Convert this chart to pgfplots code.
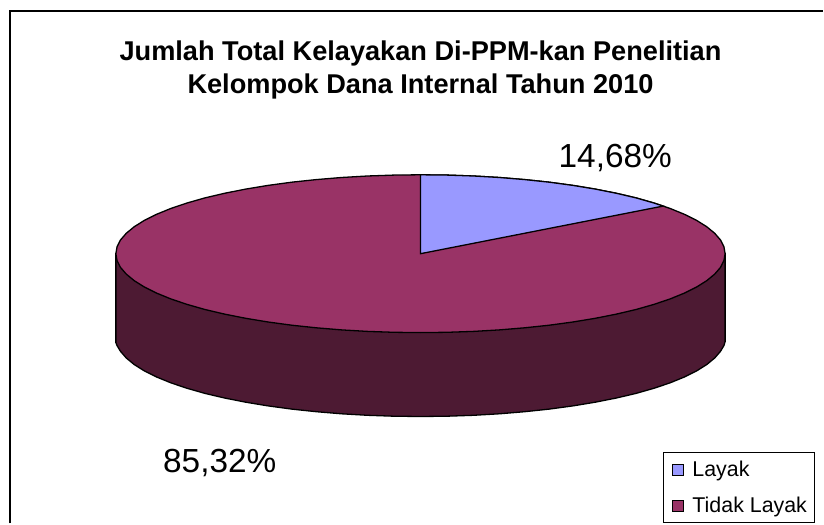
\documentclass[border=0pt]{standalone}
\usepackage{pgfplots}
\pgfplotsset{compat=1.18}
\usepackage{fontspec}
\setmainfont{Liberation Sans}
\definecolor{layak}{HTML}{9999FF}
\definecolor{tidak}{HTML}{993366}
\definecolor{wall}{HTML}{4D1A33}
\pgfplotsset{swatch/.style={legend image code/.code={\path (0pt,0pt); \draw[##1] (2.5pt,-5.5pt) rectangle (14pt,5.5pt); \path (20pt,0pt);}}}
\begin{document}
\begin{tikzpicture}
\begin{axis}[
  scale only axis, width=824pt, height=524pt,
  xmin=0, xmax=824, ymin=0, ymax=524, y dir=reverse,
  axis lines=none, clip=false,
  legend cell align=left,
  legend style={at={(axis cs:816,524)}, anchor=south east, draw=black, line width=1.2pt, fill=white,
    font=\fontsize{21.4}{25}\selectfont, row sep=15pt, inner xsep=5.5pt, inner ysep=6.5pt},
]
% page extent
\addplot[forget plot, draw=none] coordinates {(0,0) (824,524)};
% chart frame (open on the right and at the bottom)
\addplot[forget plot, black, line width=2pt] coordinates {(10,524) (10,11) (824,11)};
% side wall
\addplot[forget plot, fill=wall, draw=black, line width=1.3pt] coordinates {
(116,254) (116,343) (117.2,346) (120.6,351.7) (126.4,358.4) (134.4,365.0) (144.6,371.4) (156.9,377.5) (171.1,383.3) (187.4,388.8) (205.3,393.9) (224.9,398.5) (246.1,402.7) (268.5,406.4) (292.1,409.6) (316.7,412.2) (342.1,414.3) (368.0,415.8) (394.4,416.7) (421,417)
(447.6,416.7) (474.0,415.8) (499.9,414.3) (525.3,412.2) (549.9,409.6) (573.5,406.4) (595.9,402.7) (617.1,398.5) (636.7,393.9) (654.6,388.8) (670.9,383.3) (685.1,377.5) (697.4,371.4) (707.6,365.0) (715.6,358.4) (721.4,351.7) (724.8,346) (726,342) (726,254)
} --cycle;
% top face: Tidak Layak
\addplot[forget plot, fill=tidak, draw=black, line width=1.3pt] coordinates {
(726.0,254.0) (724.8,247.1) (721.4,240.3) (715.6,233.6) (707.6,227.0) (697.4,220.6) (685.1,214.5) (670.9,208.7) (654.6,203.2) (636.7,198.1) (617.1,193.5) (595.9,189.3) (573.5,185.6) (549.9,182.4) (525.3,179.8) (499.9,177.7) (474.0,176.2) (447.6,175.3) (421,175)
(394.4,175.3) (368.0,176.2) (342.1,177.7) (316.7,179.8) (292.1,182.4) (268.5,185.6) (246.1,189.3) (224.9,193.5) (205.3,198.1) (187.4,203.2) (171.1,208.7) (156.9,214.5) (144.6,220.6) (134.4,227.0) (126.4,233.6) (120.6,240.3) (117.2,247.1) (116,254)
(117.2,260.9) (120.6,267.7) (126.4,274.4) (134.4,281.0) (144.6,287.4) (156.9,293.5) (171.1,299.3) (187.4,304.8) (205.3,309.9) (224.9,314.5) (246.1,318.7) (268.5,322.4) (292.1,325.6) (316.7,328.2) (342.1,330.3) (368.0,331.8) (394.4,332.7) (421,333)
(447.6,332.7) (474.0,331.8) (499.9,330.3) (525.3,328.2) (549.9,325.6) (573.5,322.4) (595.9,318.7) (617.1,314.5) (636.7,309.9) (654.6,304.8) (670.9,299.3) (685.1,293.5) (697.4,287.4) (707.6,281.0) (715.6,274.4) (721.4,267.7) (724.8,260.9)
} --cycle;
% top face: Layak
\addplot[forget plot, fill=layak, draw=black, line width=1.3pt] coordinates {
(421,254) (421,175) (447.6,175.3) (474.0,176.2) (499.9,177.7) (525.3,179.8) (549.9,182.4) (573.5,185.6) (595.9,189.3) (617.1,193.5) (636.7,198.1) (654.6,203.2) (664.1,206.3)
} --cycle;
\addlegendimage{swatch, fill=layak, draw=black, line width=1.5pt}
\addlegendentry{Layak}
\addlegendimage{swatch, fill=tidak, draw=black, line width=1.5pt}
\addlegendentry{Tidak Layak}
\node[align=center, font=\fontsize{27.2}{33}\selectfont\bfseries] at (axis cs:421,70) {Jumlah Total Kelayakan Di-PPM-kan Penelitian\\Kelompok Dana Internal Tahun 2010};
\node[font=\fontsize{33.4}{36}\selectfont] at (axis cs:616,158) {14,68\%};
\node[font=\fontsize{33.4}{36}\selectfont] at (axis cs:220,464) {85,32\%};
\end{axis}
\end{tikzpicture}
\end{document}
